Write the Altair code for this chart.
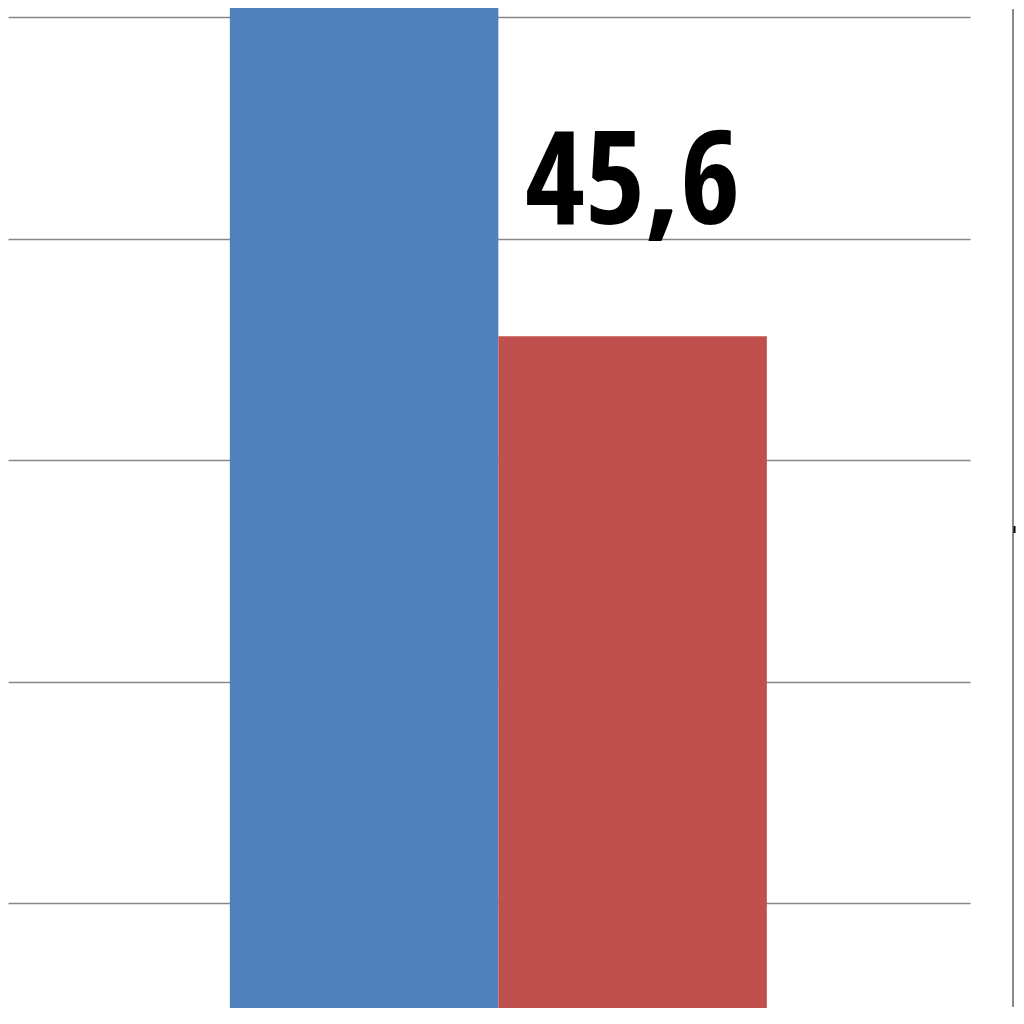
import altair as alt
import pandas as pd

categories = ["Serie 1", "Serie 2"]
values = [66.0, 45.6]
colors = ["#4F81BD", "#C0504D"]
grid_values = [20, 30, 40, 50, 60]

df = pd.DataFrame({"cat": categories, "value": values})

Y_MIN, Y_MAX = 15.268, 60.415
y_scale = alt.Scale(domain=[Y_MIN, Y_MAX], zero=False, nice=False)
x_scale = alt.Scale(domain=categories, paddingInner=0, paddingOuter=0.7914, align=0.522)

base = alt.Chart(df)

bars = base.mark_bar(clip=True).encode(
    x=alt.X("cat:N", scale=x_scale, axis=None),
    y=alt.Y("value:Q", scale=y_scale,
            axis=alt.Axis(values=grid_values, labels=False, ticks=False, domain=False,
                          grid=True, gridColor="#868686", gridWidth=1.5, title=None)),
    y2=alt.datum(0),
    color=alt.Color("cat:N", scale=alt.Scale(domain=categories, range=colors), legend=None),
)

labels = base.transform_filter(f"datum.value < {Y_MAX}").transform_calculate(
    label="replace(format(datum.value, '.1f'), '.', ',')"
).mark_text(
    font="Open Sans Condensed", fontWeight="bold", fontSize=130,
    baseline="alphabetic", dy=-112, color="#000000"
).encode(
    x=alt.X("cat:N", scale=x_scale),
    y=alt.Y("value:Q", scale=y_scale),
    text="label:N",
)

edge = alt.Chart(pd.DataFrame({"a": [0]})).mark_rule(color="#8a8a8a", strokeWidth=2).encode(
    x=alt.value(1005), y=alt.value(1), y2=alt.value(999)
)
nub = alt.Chart(pd.DataFrame({"a": [0]})).mark_rule(color="#000000", strokeWidth=2).encode(
    x=alt.value(1006.5), y=alt.value(518), y2=alt.value(525)
)

chart = alt.layer(bars, labels, edge, nub).properties(
    width=962, height=1000, padding=0, background="white"
).configure_view(stroke=None)

chart.save("out.html", embed_options={"renderer": "svg", "actions": False})
